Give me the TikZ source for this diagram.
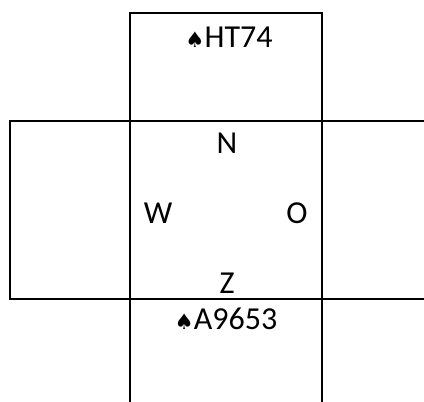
\documentclass[tikz,border=0pt]{standalone}
\usepackage{fontspec}
\setmainfont{Carlito}
\newfontfamily\spadefont{DejaVu Sans}
\usetikzlibrary{positioning}

\newcommand{\spd}{{\spadefont\fontsize{16}{19}\selectfont\char"2660}}

\begin{document}
\begin{tikzpicture}[
    x=0.75pt, y=-0.75pt,
    grid/.style={line width=1.6pt, line cap=rect},
    hand/.style={inner sep=0pt, font=\fontsize{24}{28}\selectfont},
    seat/.style={inner sep=0pt, font=\fontsize{24}{28}\selectfont}
]
\useasboundingbox (0,0) rectangle (424,401);
% table corners
\coordinate (tl) at (130,13);
\coordinate (tr) at (322,13);
\coordinate (ml) at (10,121);
\coordinate (mr) at (424,121);
\coordinate (bl) at (10,299);
\coordinate (br) at (424,299);
% lines
\draw[grid] (130,121) -- (tl) -- (tr) -- (322,121);
\draw[grid] (mr) -- (ml) -- (bl) -- (br);
\draw[grid] (130,121) -- (130,401);
\draw[grid] (322,121) -- (322,401);
% hands
\node[hand] (north) at (229,37) {\spd HT74};
\node[hand] (south) at (226,319) {\spd A9653};
% seats
\node[seat] (n) at (227,143) {N};
\node[seat] (w) at (158,213) {W};
\node[seat] (o) at (297,213) {O};
\node[seat] (z) at (227,283) {Z};
\end{tikzpicture}
\end{document}
